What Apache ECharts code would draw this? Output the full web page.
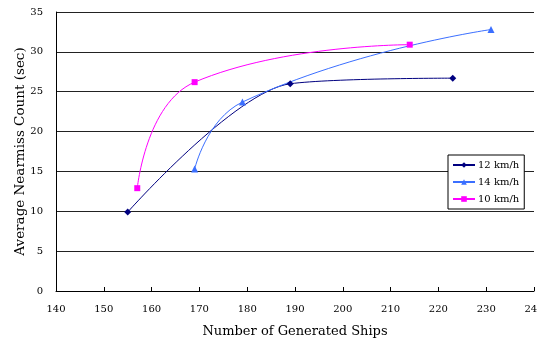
<!DOCTYPE html>
<html><head><meta charset="utf-8">
<script src="https://cdn.jsdelivr.net/npm/echarts@6/dist/echarts.min.js"></script>
<style>html,body{margin:0;padding:0;background:#fff}#c{width:537px;height:338px}</style>
</head><body><div id="c"></div>
<script>
const seriesNames = ["12 km/h", "14 km/h", "10 km/h"];
const ships12 = [155, 189, 223];
const count12 = [9.9, 26.0, 26.7];
const ships14 = [169, 179, 231];
const count14 = [15.3, 23.7, 32.8];
const ships10 = [157, 169, 214];
const count10 = [12.9, 26.2, 30.9];
const xTitle = "Number of Generated Ships";
const yTitle = "Average Nearmiss Count (sec)";

const font = "DejaVu Serif";
const pairs = (xs, ys) => xs.map((x, i) => [x, ys[i]]);
const chart = echarts.init(document.getElementById('c'), null, {renderer: 'canvas'});
chart.setOption({
  animation: false,
  backgroundColor: '#fff',
  grid: {left: 56, right: 3, top: 12, bottom: 47, outerBoundsMode: 'none', containLabel: false},
  xAxis: {
    type: 'value', min: 140, max: 240, interval: 10,
    name: xTitle, nameLocation: 'middle', nameGap: 34,
    nameTextStyle: {fontFamily: font, fontSize: 13, color: '#000'},
    axisLine: {show: true, lineStyle: {color: '#000', width: 1}},
    axisTick: {show: true, inside: true, length: 4, lineStyle: {color: '#000'}},
    axisLabel: {fontFamily: font, fontSize: 10, color: '#000', margin: 13},
    splitLine: {show: false}
  },
  yAxis: {
    type: 'value', min: 0, max: 35, interval: 5,
    name: yTitle, nameLocation: 'middle', nameGap: 29, nameRotate: 90, nameMoveOverlap: false,
    nameTextStyle: {fontFamily: font, fontSize: 13.5, color: '#000'},
    axisLine: {show: true, lineStyle: {color: '#000', width: 1}},
    axisTick: {show: false},
    axisLabel: {fontFamily: font, fontSize: 10, color: '#000', margin: 13},
    splitLine: {show: true, lineStyle: {color: '#222', width: 1}}
  },
  legend: {
    orient: 'vertical', left: 448, top: 155,
    backgroundColor: '#fff', borderColor: '#000', borderWidth: 1,
    padding: [5, 5, 5, 4], itemGap: 7, itemWidth: 22, itemHeight: 7,
    textStyle: {fontFamily: font, fontSize: 10, color: '#000', padding: [0, 0, 0, -2]},
    data: seriesNames
  },
  series: [
    {name: seriesNames[0], type: 'line', data: pairs(ships12, count12), smooth: 0.3,
     symbol: 'diamond', symbolSize: 7, color: '#000080', lineStyle: {width: 1}},
    {name: seriesNames[1], type: 'line', data: pairs(ships14, count14), smooth: 0.5,
     symbol: 'triangle', symbolSize: 7, color: '#3b6fff', lineStyle: {width: 1}},
    {name: seriesNames[2], type: 'line', data: pairs(ships10, count10), smooth: 0.5,
     symbol: 'rect', symbolSize: 6, color: '#ff00ff', lineStyle: {width: 1}}
  ]
});
</script></body></html>
